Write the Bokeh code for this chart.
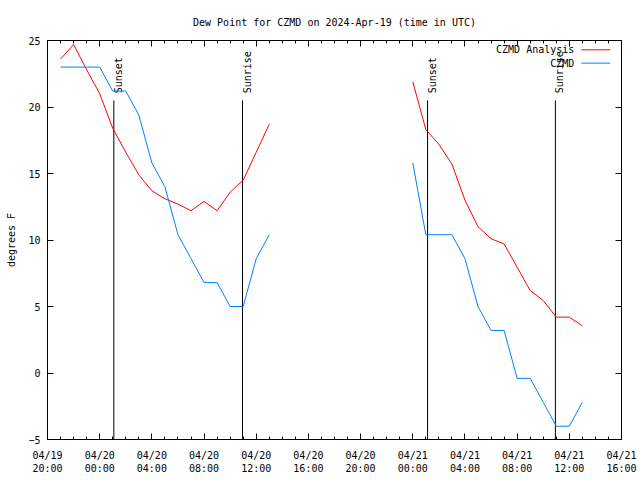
import numpy as np
import pandas as pd
from math import pi
from bokeh.plotting import figure
from bokeh.models import (Range1d, FixedTicker, DatetimeTickFormatter, LinearAxis,
                          CustomJSTickFormatter)
from bokeh.core.properties import value
from bokeh.embed import file_html
from bokeh.resources import INLINE

# ---- data ----
times_1 = pd.date_range("2024-04-19 21:00", "2024-04-20 13:00", freq="h")
times_2 = pd.date_range("2024-04-21 00:00", "2024-04-21 13:00", freq="h")

analysis_1 = [23.6, 24.7, 22.8, 21.0, 18.4, 16.6, 14.9, 13.7, 13.1, 12.7, 12.2, 12.9,
              12.2, 13.6, 14.5, 16.6, 18.7]
analysis_2 = [21.9, 18.3, 17.2, 15.7, 13.0, 11.0, 10.1, 9.7, 7.95, 6.2, 5.45, 4.2, 4.2, 3.55]
obs_1 = [23, 23, 23, 23, 21.2, 21.2, 19.4, 15.8, 14, 10.4, 8.6, 6.8, 6.8, 5, 5, 8.6, 10.4]
obs_2 = [15.8, 10.4, 10.4, 10.4, 8.6, 5, 3.2, 3.2, -0.4, -0.4, -2.2, -4, -4, -2.2]

sun_times = pd.to_datetime(["2024-04-20 01:05", "2024-04-20 10:57",
                            "2024-04-21 01:08", "2024-04-21 10:56"])
sun_labels = ["Sunset", "Sunrise", "Sunset", "Sunrise"]

x_start = pd.Timestamp("2024-04-19 20:00")
x_end = pd.Timestamp("2024-04-21 16:00")
major_ticks = pd.date_range(x_start, x_end, freq="4h")
minor_ticks = pd.date_range(x_start, x_end, freq="h")
y_ticks = [-5, 0, 5, 10, 15, 20, 25]

series_names = ["CZMD Analysis", "CZMD"]
series_colors = ["#ff0000", "#0080ff"]

FONT = "DejaVu Sans Mono"
FS = "10px"


def ms(ts):
    return [t.value / 1e6 for t in ts]


p = figure(width=640, height=480, output_backend="svg", toolbar_location=None,
           x_axis_type="datetime",
           x_range=Range1d(x_start, x_end), y_range=Range1d(-5, 25),
           min_border_left=47, min_border_right=19, min_border_top=40,
           min_border_bottom=41)

p.title.text = "Dew Point for CZMD on 2024-Apr-19 (time in UTC)"
p.title.align = "center"
p.title.text_font = FONT
p.title.text_font_size = FS
p.title.text_font_style = "normal"
p.title.text_color = "black"
p.title.offset = 0
p.title.standoff = 25

p.grid.visible = False
p.outline_line_color = "black"
p.outline_line_width = 1
p.background_fill_color = "white"
p.border_fill_color = "white"

xt = FixedTicker(ticks=ms(major_ticks), minor_ticks=ms(minor_ticks))
fmt = "%m/%d\n%H:%M"
xf = DatetimeTickFormatter(microseconds=fmt, milliseconds=fmt, seconds=fmt, minsec=fmt,
                           minutes=fmt, hourmin=fmt, hours=fmt, days=fmt, months=fmt,
                           years=fmt, context=None)
yt = FixedTicker(ticks=y_ticks, minor_ticks=[])

xa = p.xaxis[0]
xa.ticker = xt
xa.formatter = xf
ya = p.yaxis[0]
ya.ticker = yt
ya.axis_label = "degrees F"
ya.axis_label_standoff = 8

for ax in (xa, ya):
    ax.major_label_text_font = FONT
    ax.major_label_text_font_size = FS
    ax.major_label_text_color = "black"
    ax.axis_label_text_font = FONT
    ax.axis_label_text_font_size = FS
    ax.axis_label_text_font_style = "normal"
    ax.axis_label_text_color = "black"
    ax.axis_line_color = "black"
    ax.major_tick_in = 6
    ax.major_tick_out = 0
    ax.minor_tick_in = 3
    ax.minor_tick_out = 0
    ax.major_tick_line_color = "black"
    ax.minor_tick_line_color = "black"
xa.major_label_standoff = 10
ya.major_label_standoff = 7

# mirror ticks on top and right (no labels)
top = LinearAxis(ticker=FixedTicker(ticks=ms(major_ticks), minor_ticks=ms(minor_ticks)),
                 formatter=CustomJSTickFormatter(code="return ''"), major_label_standoff=0,
                 major_tick_in=6, major_tick_out=0, minor_tick_in=3, minor_tick_out=0,
                 axis_line_color="black")
right = LinearAxis(ticker=FixedTicker(ticks=y_ticks, minor_ticks=[]),
                   formatter=CustomJSTickFormatter(code="return ''"), major_label_standoff=0,
                   major_tick_in=6, major_tick_out=0, minor_tick_in=0, minor_tick_out=0,
                   axis_line_color="black")
p.add_layout(top, "above")
p.add_layout(right, "right")

# sunrise / sunset markers
p.segment(x0=sun_times, y0=-5, x1=sun_times, y1=20.5, line_color="black", line_width=1)
p.text(x=sun_times, y=20.5, text=sun_labels, angle=pi / 2, text_align="left",
       text_baseline="top", y_offset=-7, x_offset=-1,
       text_font=value(FONT), text_font_size=FS, text_color="black")

# series
p.line(times_1, analysis_1, line_color=series_colors[0], line_width=1)
p.line(times_2, analysis_2, line_color=series_colors[0], line_width=1)
p.line(times_1, obs_1, line_color=series_colors[1], line_width=1)
p.line(times_2, obs_2, line_color=series_colors[1], line_width=1)

# legend (gnuplot style: text left of sample line)
leg_text_x = pd.Timestamp("2024-04-21 12:23")
leg_line_x0 = pd.Timestamp("2024-04-21 12:55")
leg_line_x1 = pd.Timestamp("2024-04-21 15:08")
leg_y = [24.3, 23.3]
p.text(x=[leg_text_x] * 2, y=leg_y, text=series_names, text_align="right",
       text_baseline="middle", text_font=value(FONT), text_font_size=FS,
       text_color="black")
p.segment(x0=[leg_line_x0] * 2, y0=leg_y, x1=[leg_line_x1] * 2, y1=leg_y,
          line_color=series_colors, line_width=1)

open("out.html", "w").write(file_html(p, INLINE))
